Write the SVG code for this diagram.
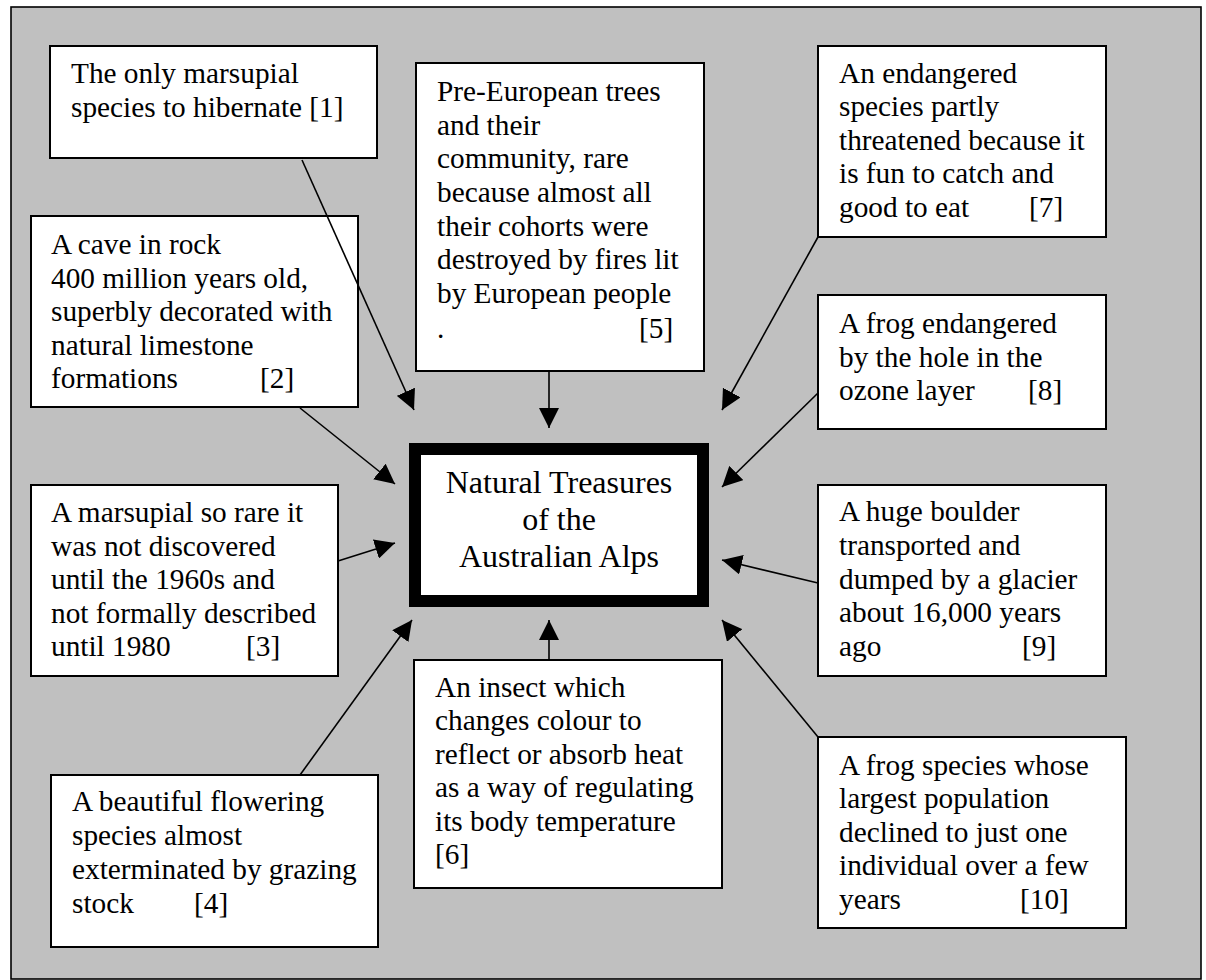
<svg xmlns="http://www.w3.org/2000/svg" width="1206" height="980" viewBox="0 0 1206 980">
<defs>
<style>
.box{fill:#ffffff;stroke:#000000;stroke-width:2}
.t{font-family:"Liberation Serif","Times New Roman",serif;font-size:29.3px;fill:#000000}
.c{font-family:"Liberation Serif","Times New Roman",serif;font-size:32px;fill:#000000;text-anchor:middle}
.ln{stroke:#000000;stroke-width:1.6;fill:none;marker-end:url(#ah)}
</style>
<marker id="ah" markerUnits="userSpaceOnUse" markerWidth="20" markerHeight="20" refX="20" refY="10" orient="auto" viewBox="0 0 20 20">
<path d="M0,0 L20,10 L0,20 Z" fill="#000000"/>
</marker>
</defs>
<rect x="0" y="0" width="1206" height="980" fill="#ffffff"/>
<rect id="frame" x="11" y="7" width="1190" height="972" fill="#c0c0c0" stroke="#000000" stroke-width="1.6"/>

<g id="center">
<rect x="415" y="449" width="288" height="152" fill="#ffffff" stroke="#000000" stroke-width="12"/>
<text class="c" x="559" y="493">Natural Treasures</text>
<text class="c" x="559" y="530">of the</text>
<text class="c" x="559" y="567">Australian Alps</text>
</g>

<g id="n1">
<rect class="box" x="50" y="46" width="327" height="112"/>
<text class="t" x="71" y="83">The only marsupial</text>
<text class="t" x="71" y="117">species to hibernate [1]</text>
</g>

<g id="n2">
<rect class="box" x="31" y="216" width="327" height="191"/>
<text class="t" x="51" y="254">A cave in rock</text>
<text class="t" x="51" y="287.5">400 million years old,</text>
<text class="t" x="51" y="321">superbly decorated with</text>
<text class="t" x="51" y="354.5">natural limestone</text>
<text class="t" x="51" y="388">formations</text>
<text class="t" x="260" y="388">[2]</text>
</g>

<g id="n3">
<rect class="box" x="31" y="485" width="307" height="191"/>
<text class="t" x="51" y="522">A marsupial so rare it</text>
<text class="t" x="51" y="555.5">was not discovered</text>
<text class="t" x="51" y="589">until the 1960s and</text>
<text class="t" x="51" y="622.5">not formally described</text>
<text class="t" x="51" y="656">until 1980</text>
<text class="t" x="246" y="656">[3]</text>
</g>

<g id="n4">
<rect class="box" x="51" y="775" width="327" height="172"/>
<text class="t" x="72" y="811">A beautiful flowering</text>
<text class="t" x="72" y="845">species almost</text>
<text class="t" x="72" y="879">exterminated by grazing</text>
<text class="t" x="72" y="913">stock</text>
<text class="t" x="194" y="913">[4]</text>
</g>

<g id="n5">
<rect class="box" x="416" y="63" width="288" height="308"/>
<text class="t" x="437" y="101">Pre-European trees</text>
<text class="t" x="437" y="135">and their</text>
<text class="t" x="437" y="168">community, rare</text>
<text class="t" x="437" y="202">because almost all</text>
<text class="t" x="437" y="236">their cohorts were</text>
<text class="t" x="437" y="269">destroyed by fires lit</text>
<text class="t" x="437" y="303">by European people</text>
<text class="t" x="437" y="338">.</text>
<text class="t" x="639" y="338">[5]</text>
</g>

<g id="n6">
<rect class="box" x="414" y="660" width="308" height="228"/>
<text class="t" x="435" y="697">An insect which</text>
<text class="t" x="435" y="730">changes colour to</text>
<text class="t" x="435" y="764">reflect or absorb heat</text>
<text class="t" x="435" y="797">as a way of regulating</text>
<text class="t" x="435" y="831">its body temperature</text>
<text class="t" x="435" y="864">[6]</text>
</g>

<g id="n7">
<rect class="box" x="818" y="46" width="288" height="191"/>
<text class="t" x="839" y="82.5">An endangered</text>
<text class="t" x="839" y="116">species partly</text>
<text class="t" x="839" y="149.5">threatened because it</text>
<text class="t" x="839" y="183">is fun to catch and</text>
<text class="t" x="839" y="216.5">good to eat</text>
<text class="t" x="1029" y="216.5">[7]</text>
</g>

<g id="n8">
<rect class="box" x="818" y="295" width="288" height="134"/>
<text class="t" x="839" y="333">A frog endangered</text>
<text class="t" x="839" y="367">by the hole in the</text>
<text class="t" x="839" y="400">ozone layer</text>
<text class="t" x="1028" y="400">[8]</text>
</g>

<g id="n9">
<rect class="box" x="818" y="485" width="288" height="191"/>
<text class="t" x="839" y="521">A huge boulder</text>
<text class="t" x="839" y="555">transported and</text>
<text class="t" x="839" y="588.5">dumped by a glacier</text>
<text class="t" x="839" y="622">about 16,000 years</text>
<text class="t" x="839" y="655.5">ago</text>
<text class="t" x="1022" y="655.5">[9]</text>
</g>

<g id="n10">
<rect class="box" x="818" y="737" width="308" height="191"/>
<text class="t" x="839" y="775">A frog species whose</text>
<text class="t" x="839" y="808">largest population</text>
<text class="t" x="839" y="842">declined to just one</text>
<text class="t" x="839" y="875">individual over a few</text>
<text class="t" x="839" y="909">years</text>
<text class="t" x="1020" y="909">[10]</text>
</g>

<g id="connectors">
<line class="ln" x1="302" y1="160" x2="414" y2="410"/>
<line class="ln" x1="300" y1="408" x2="395" y2="484"/>
<line class="ln" x1="338" y1="561" x2="395" y2="543"/>
<line class="ln" x1="300" y1="775" x2="412" y2="620"/>
<line class="ln" x1="549" y1="371" x2="549" y2="428"/>
<line class="ln" x1="549" y1="660" x2="549" y2="620"/>
<line class="ln" x1="818" y1="237" x2="722" y2="410"/>
<line class="ln" x1="818" y1="393" x2="722" y2="487"/>
<line class="ln" x1="818" y1="583" x2="722" y2="560"/>
<line class="ln" x1="818" y1="737" x2="722" y2="620"/>
</g>
</svg>
